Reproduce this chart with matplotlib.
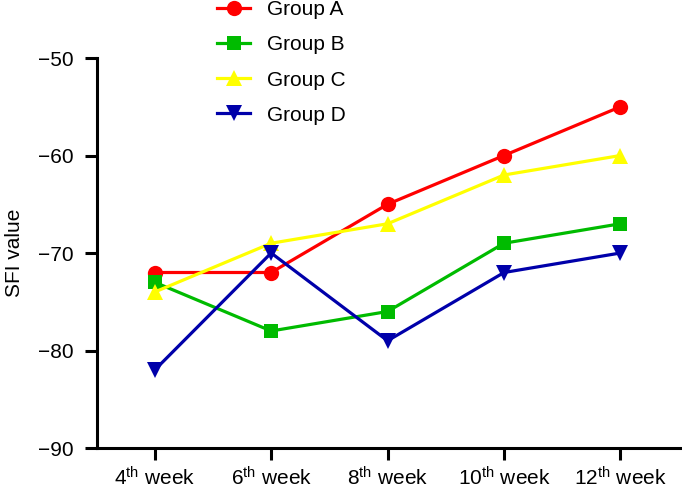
import matplotlib
matplotlib.use("Agg")
import matplotlib.pyplot as plt

plt.rcParams['font.family'] = ['Liberation Sans', 'DejaVu Sans']
plt.rcParams['mathtext.fontset'] = 'custom'
plt.rcParams['mathtext.rm'] = 'Liberation Sans'
plt.rcParams['mathtext.it'] = 'Liberation Sans'

weeks = ['4', '6', '8', '10', '12']
tick_labels = [r'%s$^{\mathrm{th}}$ week' % w for w in weeks]
groups = ['Group A', 'Group B', 'Group C', 'Group D']
group_a = [-72, -72, -65, -60, -55]
group_b = [-73, -78, -76, -69, -67]
group_c = [-74, -69, -67, -62, -60]
group_d = [-82, -70, -79, -72, -70]
y_ticks = [-90, -80, -70, -60, -50]

series = [group_a, group_b, group_c, group_d]
colors = ['#FF0000', '#00BB00', '#FFFF00', '#0000AA']
markers = ['o', 's', '^', 'v']
msizes = [11, 10.5, 11, 11]

fig = plt.figure(figsize=(6.82, 4.91), dpi=100)
ax = fig.add_axes([96.5/682, 43/491, (681-96.5)/682, (448-58)/491])

x = list(range(len(weeks)))
handles = []
for vals, c, m, ms, name in zip(series, colors, markers, msizes, groups):
    h, = ax.plot(x, vals, color=c, marker=m, markersize=ms, linewidth=2.3,
                 markeredgewidth=0, label=name)
    handles.append(h)

ax.set_xlim(-0.5, 4.52)
ax.set_ylim(-90, -50)
ax.set_yticks(y_ticks)
ax.set_yticklabels(['\u2212%d' % abs(v) for v in y_ticks])
ax.set_xticks(x)
ax.set_xticklabels(tick_labels)
ax.spines['top'].set_visible(False)
ax.spines['right'].set_visible(False)
for s in ['left', 'bottom']:
    ax.spines[s].set_linewidth(2.2)
ax.tick_params(axis='both', width=2.2, length=8.5, labelsize=15, colors='black', pad=5)
ax.tick_params(axis='y', pad=8)
ax.set_ylabel('SFI value', fontsize=15, labelpad=10)

leg = ax.legend(handles=handles, loc='upper left', bbox_to_anchor=(217/682, 1.0),
                bbox_transform=fig.transFigure, frameon=False, fontsize=15,
                handlelength=1.6, handletextpad=0.8, labelspacing=0.78,
                borderpad=0, borderaxespad=0)

fig.savefig('out.png', dpi=100)
